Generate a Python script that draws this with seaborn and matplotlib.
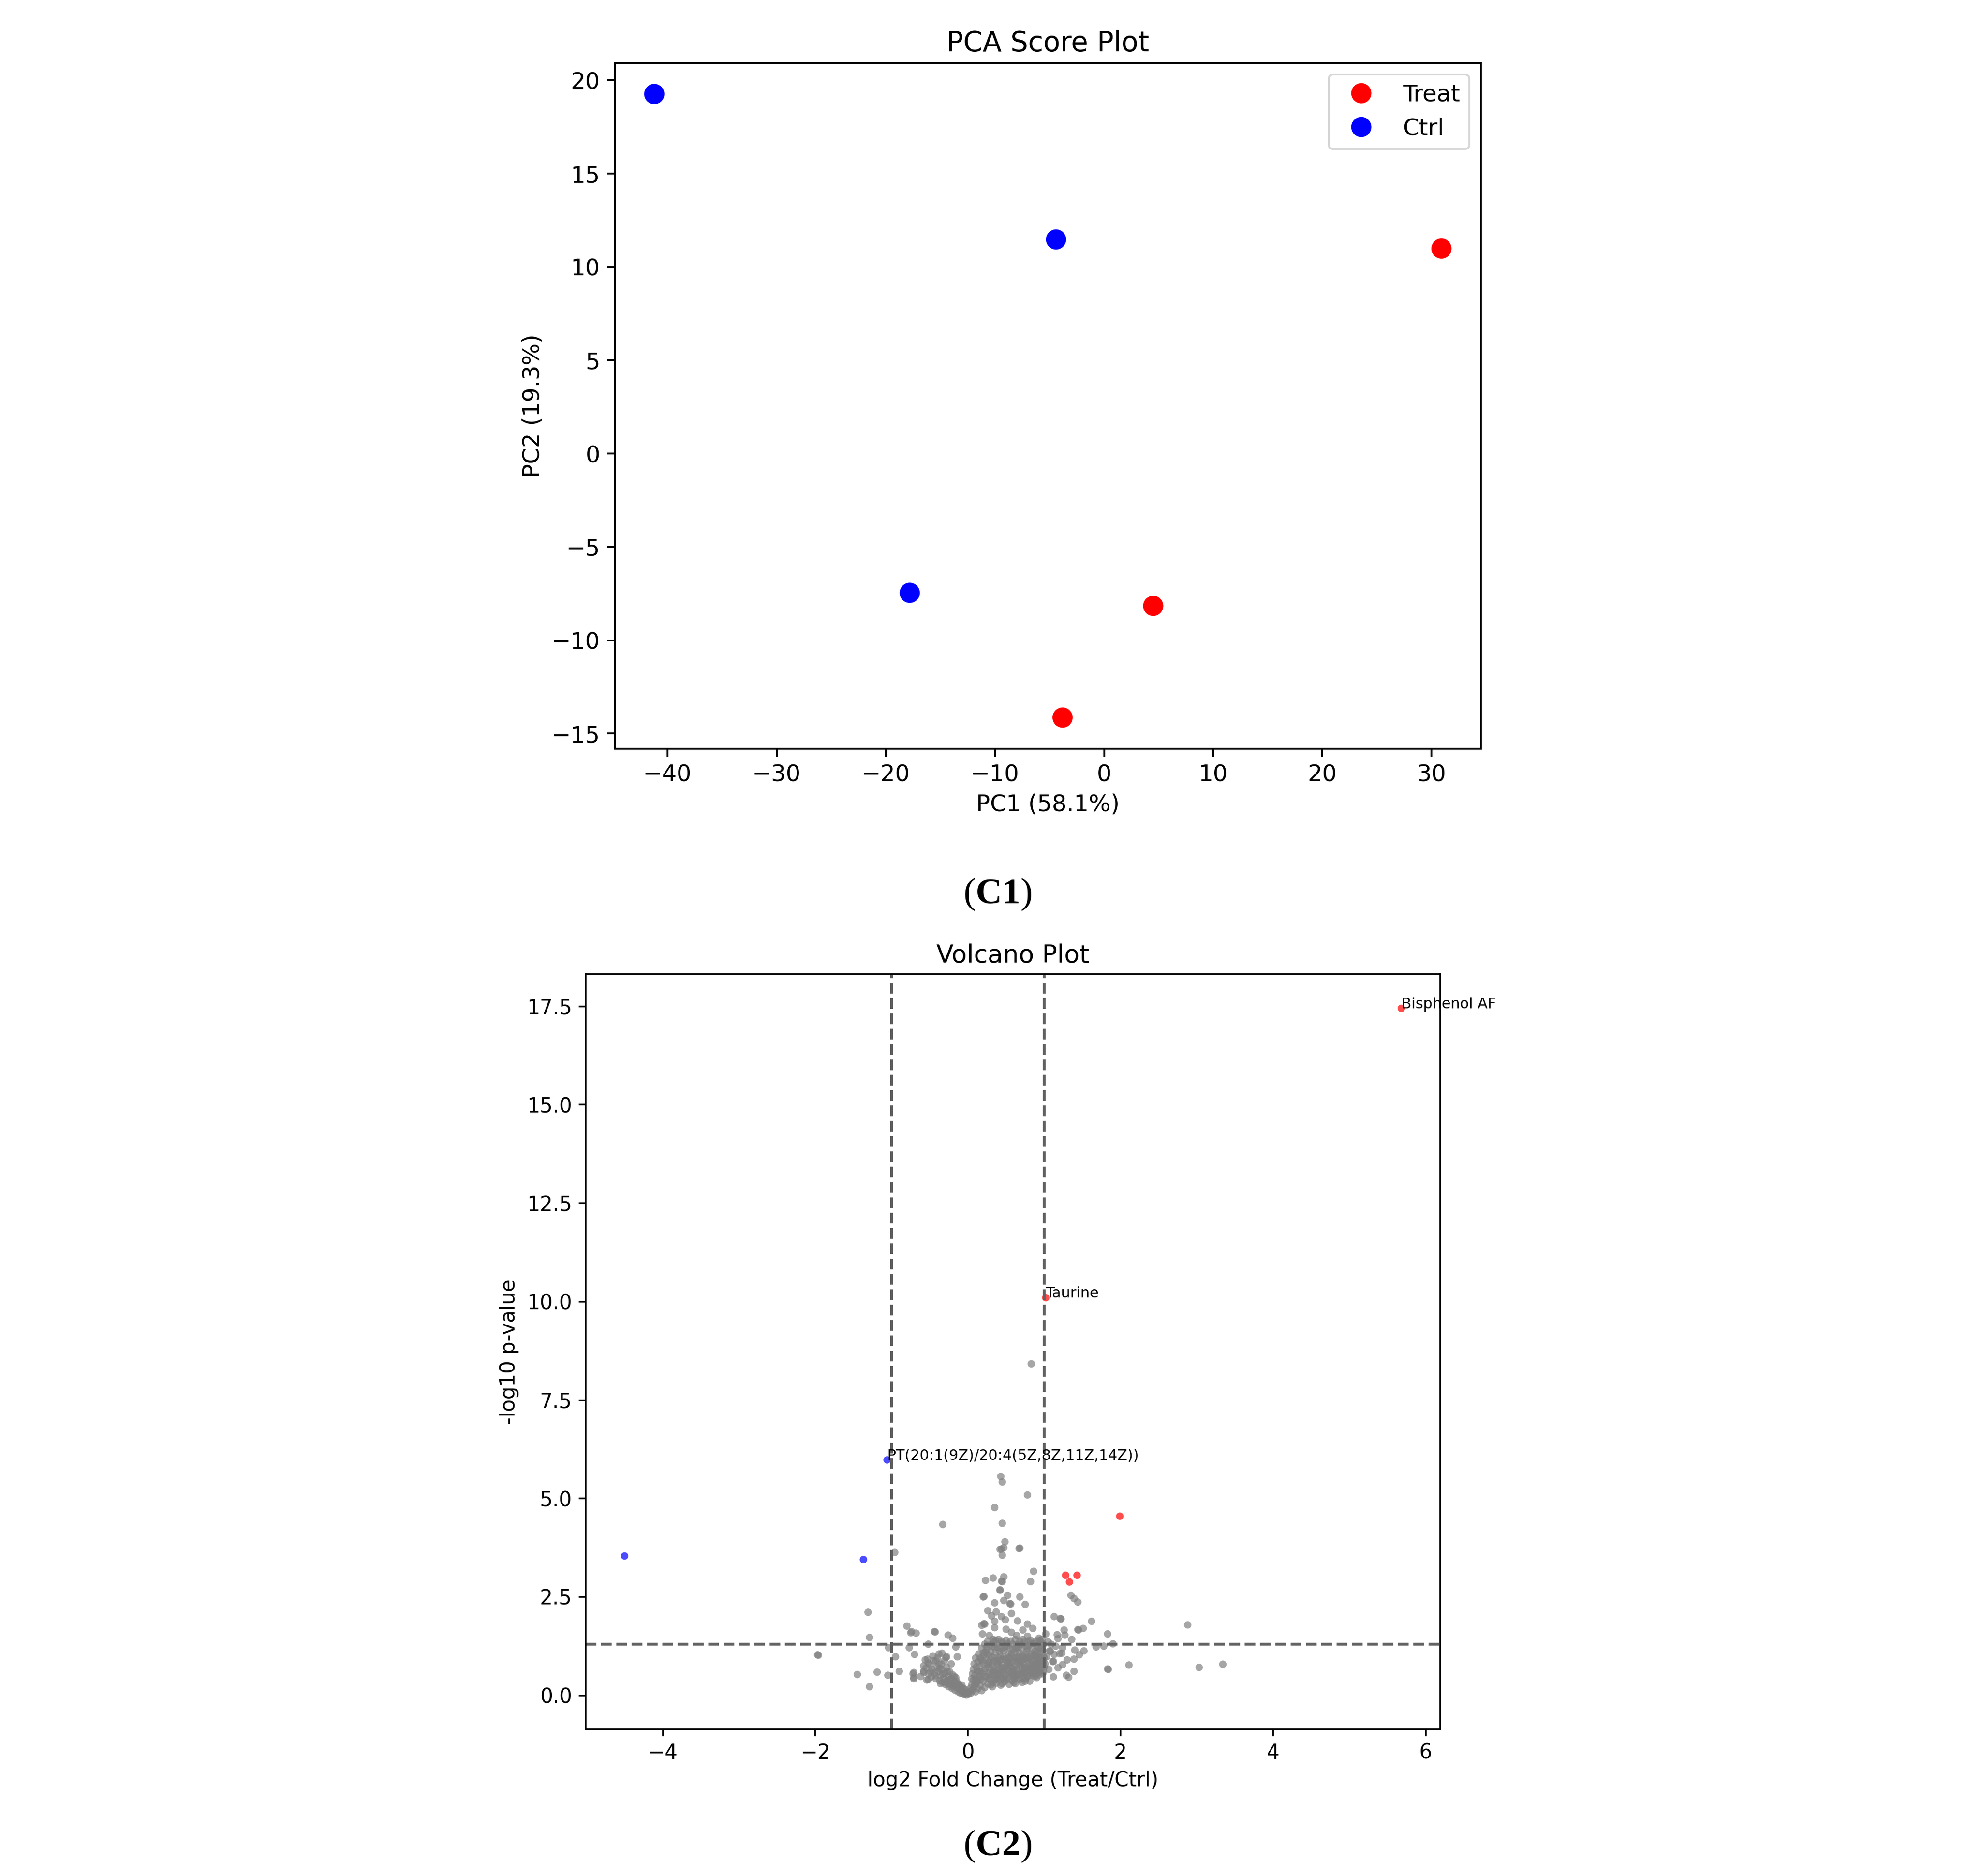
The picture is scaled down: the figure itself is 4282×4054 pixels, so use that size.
import numpy as np
import pandas as pd
import matplotlib
matplotlib.use("Agg")
import matplotlib.pyplot as plt
import seaborn as sns

plt.rcParams["mathtext.fontset"] = "custom"
plt.rcParams["mathtext.rm"] = "Liberation Serif"
plt.rcParams["mathtext.bf"] = "Liberation Serif:bold"

# ── PCA scores ───────────────────────────────────────────────────────
pca_group = ["Ctrl", "Ctrl", "Ctrl", "Treat", "Treat", "Treat"]
pca_pc1 = [-41.2, -4.4, -17.8, 30.9, 4.5, -3.8]
pca_pc2 = [19.26, 11.47, -7.46, 10.98, -8.16, -14.14]

# ── Volcano data (log2FC, -log10 p) ──────────────────────────────────
up_points = [(5.68, 17.45), (1.02, 10.10), (1.99, 4.55),
             (1.28, 3.05), (1.43, 3.05), (1.33, 2.88)]
down_points = [(-4.50, 3.54), (-1.37, 3.45), (-1.06, 5.98)]

labels_txt = ["Bisphenol AF", "Taurine", "PT(20:1(9Z)/20:4(5Z,8Z,11Z,14Z))"]
labels_pos = [(5.68, 17.45), (1.02, 10.10), (-1.06, 5.98)]

ns_upper = [
    (0.83, 8.42), (0.43, 5.56), (0.45, 5.42), (0.78, 5.09), (0.35, 4.77),
    (-0.33, 4.34), (0.45, 4.37), (0.485, 3.90), (0.42, 3.71), (0.44, 3.72),
    (0.47, 3.75), (0.45, 3.56), (0.68, 3.74), (0.67, 3.73), (-0.96, 3.63),
    (0.86, 3.15), (0.82, 2.89), (0.23, 2.92), (0.33, 2.98), (0.47, 3.01),
    (0.45, 2.89), (0.44, 2.90), (0.42, 2.67), (0.20, 2.50), (0.21, 2.51),
    (0.52, 2.54), (0.68, 2.50), (0.42, 2.68), (0.35, 2.35), (0.47, 2.41),
    (0.56, 2.32), (0.55, 2.33), (0.75, 2.31), (0.57, 2.08), (0.26, 2.15),
    (0.37, 2.12), (0.31, 2.02), (0.44, 2.00), (0.49, 1.92), (0.65, 1.89),
    (0.35, 1.88), (0.18, 1.78), (0.21, 1.82), (0.22, 1.81), (0.35, 1.72),
    (0.78, 1.81), (0.85, 1.70), (0.50, 1.68), (0.57, 1.60), (0.64, 1.52),
    (0.19, 1.56), (0.28, 1.52), (0.72, 1.66), (0.78, 1.50), (0.93, 1.45),
    (1.02, 1.56), (1.13, 2.00), (1.21, 1.95), (1.22, 1.94), (1.26, 1.66),
    (1.27, 1.53), (1.17, 1.54), (1.18, 1.44), (1.44, 1.67), (1.45, 1.66),
    (1.51, 1.70), (1.62, 1.88), (1.35, 2.54), (1.39, 2.46), (1.44, 2.37),
    (1.83, 1.56), (-1.31, 2.11), (-1.29, 1.47), (-0.80, 1.76), (-0.75, 1.59),
    (-0.68, 1.58), (-0.43, 1.61), (-0.26, 1.53), (-0.20, 1.45), (-0.74, 1.62),
]

ns_outer = [
    (1.68, 1.23), (1.78, 1.25), (1.90, 1.31), (1.83, 0.67), (1.84, 0.66),
    (2.11, 0.77), (2.88, 1.79), (3.03, 0.71), (3.34, 0.79), (1.40, 1.15),
    (1.46, 1.03), (1.39, 0.92), (1.30, 0.90), (1.24, 0.78), (1.20, 1.06),
    (1.23, 1.07), (1.07, 1.13), (1.08, 1.12), (1.24, 1.21), (1.11, 0.86),
    (1.12, 0.47), (1.29, 0.51), (1.32, 0.46), (1.39, 0.61), (0.99, 0.86),
    (1.01, 0.80), (1.13, 1.04), (1.12, 0.86), (-1.97, 1.03), (-1.96, 1.02),
    (-1.45, 0.53), (-1.19, 0.59), (-1.29, 0.22), (-1.04, 1.21), (-1.05, 0.51),
    (-0.90, 0.61), (-0.95, 0.98), (-0.72, 0.55), (-0.71, 0.42), (-0.54, 0.39),
    (-0.52, 1.30), (-0.77, 1.21), (-0.70, 1.04), (-0.34, 1.07), (-0.29, 0.96),
    (-0.16, 1.23), (-0.14, 0.98), (-0.56, 0.90), (-0.52, 0.82), (-0.58, 0.75),
    (-0.42, 0.88), (-0.38, 0.79), (-0.71, 0.58), (-0.71, 0.45), (-0.58, 0.58),
    (-0.52, 0.40), (-0.44, 1.62), (1.05, 1.36), (1.15, 1.25), (1.03, 0.98),
    (1.06, 0.66), (1.18, 0.70), (1.09, 1.30), (1.36, 1.42), (1.52, 1.13),
]

ns_left_arm = [
    (-0.58, 0.62), (-0.55, 0.70), (-0.52, 0.55), (-0.50, 0.78), (-0.48, 0.47),
    (-0.47, 0.66), (-0.45, 0.88), (-0.44, 0.57), (-0.42, 0.42), (-0.41, 0.73),
    (-0.40, 0.95), (-0.39, 0.61), (-0.37, 0.37), (-0.36, 0.50), (-0.35, 0.80),
    (-0.34, 0.66), (-0.33, 0.32), (-0.32, 0.44), (-0.31, 0.88), (-0.30, 0.56),
    (-0.29, 0.27), (-0.28, 0.71), (-0.27, 0.38), (-0.26, 0.48), (-0.25, 0.22),
    (-0.24, 0.60), (-0.23, 0.31), (-0.22, 0.42), (-0.21, 0.18), (-0.20, 0.52),
    (-0.19, 0.26), (-0.18, 0.35), (-0.17, 0.13), (-0.16, 0.45), (-0.15, 0.21),
    (-0.14, 0.30), (-0.13, 0.09), (-0.12, 0.16), (-0.11, 0.25), (-0.10, 0.06),
    (-0.09, 0.12), (-0.08, 0.19), (-0.07, 0.04), (-0.06, 0.10), (-0.05, 0.02),
    (-0.04, 0.07), (-0.03, 0.14), (-0.02, 0.01), (-0.01, 0.05), (-0.46, 1.00),
    (-0.38, 1.05), (-0.53, 0.92), (-0.28, 0.98), (-0.22, 0.80), (-0.62, 0.48),
    (-0.49, 0.60), (-0.43, 0.50), (-0.37, 0.68), (-0.33, 0.54), (-0.27, 0.60),
    (-0.24, 0.40), (-0.18, 0.48), (-0.15, 0.36), (-0.12, 0.28), (-0.08, 0.26),
    (-0.06, 0.18), (-0.36, 0.30), (-0.31, 0.34), (-0.26, 0.30), (-0.20, 0.24),
]

ns_core = [
    (0.01, 0.03), (0.02, 0.10), (0.03, 0.18), (0.04, 0.06), (0.05, 0.27),
    (0.06, 0.13), (0.07, 0.38), (0.08, 0.21), (0.09, 0.50), (0.10, 0.09),
    (0.11, 0.31), (0.12, 0.62), (0.13, 0.17), (0.14, 0.44), (0.15, 0.75),
    (0.16, 0.26), (0.17, 0.90), (0.18, 0.12), (0.19, 0.55), (0.20, 0.36),
    (0.21, 1.02), (0.22, 0.20), (0.23, 0.68), (0.24, 0.47), (0.25, 1.15),
    (0.26, 0.29), (0.27, 0.84), (0.28, 0.58), (0.29, 1.28), (0.30, 0.39),
    (0.31, 0.97), (0.32, 0.22), (0.33, 0.71), (0.34, 1.36), (0.35, 0.50),
    (0.36, 1.10), (0.37, 0.31), (0.38, 0.86), (0.39, 1.22), (0.40, 0.62),
    (0.41, 0.40), (0.42, 1.00), (0.43, 0.26), (0.44, 0.77), (0.45, 1.33),
    (0.46, 0.54), (0.47, 1.14), (0.48, 0.35), (0.49, 0.92), (0.50, 0.66),
    (0.51, 1.25), (0.52, 0.45), (0.53, 1.05), (0.54, 0.28), (0.55, 0.82),
    (0.56, 1.38), (0.57, 0.58), (0.58, 0.38), (0.59, 1.17), (0.60, 0.72),
    (0.61, 0.95), (0.62, 0.30), (0.63, 0.50), (0.64, 1.29), (0.65, 0.85),
    (0.66, 0.63), (0.67, 1.08), (0.68, 0.40), (0.69, 0.76), (0.70, 1.20),
    (0.71, 0.33), (0.72, 0.96), (0.73, 0.55), (0.74, 1.35), (0.75, 0.70),
    (0.76, 0.42), (0.77, 1.12), (0.78, 0.88), (0.79, 0.60), (0.80, 1.27),
    (0.81, 0.36), (0.82, 0.98), (0.83, 0.74), (0.84, 1.18), (0.85, 0.50),
    (0.86, 0.90), (0.87, 1.32), (0.88, 0.66), (0.89, 1.05), (0.90, 0.45),
    (0.91, 0.82), (0.92, 1.22), (0.93, 0.58), (0.94, 1.40), (0.95, 0.95),
    (0.96, 0.70), (0.97, 1.12), (0.98, 0.55), (0.99, 1.30),
]

ns_core_fill = [
    (0.06, 0.55), (0.08, 0.80), (0.10, 0.95), (0.12, 0.35), (0.14, 1.05),
    (0.16, 0.60), (0.18, 1.20), (0.20, 0.80), (0.22, 0.48), (0.24, 0.95),
    (0.26, 1.38), (0.28, 0.70), (0.30, 1.10), (0.32, 0.56), (0.34, 0.88),
    (0.36, 0.40), (0.38, 1.30), (0.40, 0.78), (0.42, 0.58), (0.44, 1.18),
    (0.46, 0.92), (0.48, 0.70), (0.50, 1.40), (0.52, 0.82), (0.54, 0.62),
    (0.56, 1.00), (0.58, 0.86), (0.60, 0.48), (0.62, 1.12), (0.64, 0.68),
    (0.66, 0.98), (0.68, 1.38), (0.70, 0.55), (0.72, 0.80), (0.74, 0.92),
    (0.76, 1.25), (0.78, 0.48), (0.80, 0.68), (0.82, 1.40), (0.84, 0.86),
    (0.86, 0.62), (0.88, 1.12), (0.90, 0.98), (0.92, 0.74), (0.94, 0.86),
    (0.96, 1.35), (0.98, 0.80), (0.30, 0.27), (0.45, 0.30), (0.60, 0.33),
    (0.75, 0.36), (0.93, 0.52), (0.11, 0.72), (0.15, 0.48), (0.19, 0.88),
    (0.23, 1.10), (0.27, 0.42), (0.31, 0.78), (0.35, 1.22), (0.39, 0.52),
    (0.43, 0.90), (0.47, 0.42), (0.51, 0.75), (0.55, 1.20), (0.59, 0.52),
    (0.63, 0.88), (0.67, 0.45), (0.71, 1.02), (0.75, 0.58), (0.79, 0.95),
    (0.83, 0.55), (0.87, 0.76), (0.91, 1.10), (0.95, 0.62), (0.99, 1.00),
    (1.00, 0.72), (0.97, 1.42), (0.89, 1.38), (0.62, 1.42), (0.40, 1.42),
    (0.33, 1.42), (0.22, 1.30),
]

ns_core_dense = [
    (0.07, 0.66), (0.09, 0.28), (0.13, 0.85), (0.17, 0.40), (0.21, 0.62),
    (0.25, 0.78), (0.27, 1.02), (0.29, 0.52), (0.33, 0.33), (0.35, 0.95),
    (0.37, 0.64), (0.39, 0.80), (0.41, 1.12), (0.43, 0.45), (0.45, 0.70),
    (0.47, 0.98), (0.49, 0.50), (0.51, 0.40), (0.53, 0.86), (0.55, 0.55),
    (0.57, 1.05), (0.59, 0.68), (0.61, 0.42), (0.63, 1.20), (0.65, 0.52),
    (0.67, 0.80), (0.69, 1.30), (0.71, 0.62), (0.73, 0.44), (0.75, 1.05),
    (0.77, 0.72), (0.79, 1.38), (0.81, 0.80), (0.83, 1.05), (0.85, 0.70),
    (0.87, 0.55), (0.89, 0.85), (0.91, 0.62), (0.93, 0.98), (0.95, 1.20),
    (0.97, 0.85), (0.99, 0.62), (0.16, 0.95), (0.24, 1.22), (0.32, 1.25),
    (0.36, 1.40), (0.44, 1.38), (0.48, 1.22), (0.52, 1.32), (0.58, 1.30),
    (0.66, 1.22), (0.72, 1.42), (0.78, 1.20), (0.84, 1.32), (0.90, 1.26),
    (0.46, 0.62), (0.54, 0.95), (0.60, 0.60), (0.68, 0.90), (0.74, 0.68),
    (0.80, 0.52), (0.86, 1.02), (0.92, 0.90), (0.40, 0.95), (0.34, 0.62),
    (0.28, 0.85), (0.20, 1.08), (0.14, 0.62), (0.10, 0.42), (0.05, 0.42),
    (0.38, 0.44), (0.56, 0.74), (0.64, 0.95), (0.70, 0.86), (0.76, 0.95),
    (0.82, 0.62), (0.88, 0.48), (0.94, 0.70), (0.98, 1.15), (1.00, 0.95),
]

fc_cut = 1.0
p_cut = 0.05

# ── Build data frames ────────────────────────────────────────────────
pca_df = pd.DataFrame({"PC1": pca_pc1, "PC2": pca_pc2, "Group": pca_group})

ns_all = ns_upper + ns_outer + ns_left_arm + ns_core + ns_core_fill + ns_core_dense
rows = [(x, y, "ns") for x, y in ns_all]
rows += [(x, y, "up") for x, y in up_points]
rows += [(x, y, "down") for x, y in down_points]
volc = pd.DataFrame(rows, columns=["log2fc", "neglogp", "status"])

# ── Figure ───────────────────────────────────────────────────────────
fig = plt.figure(figsize=(4282 / 300, 4054 / 300), dpi=300)

# PCA score plot
ax1 = fig.add_axes([0.3104, 0.6009, 0.4371, 0.3656])
sns.scatterplot(data=pca_df, x="PC1", y="PC2", hue="Group",
                hue_order=["Treat", "Ctrl"],
                palette={"Treat": "red", "Ctrl": "blue"},
                s=110, linewidth=0, ax=ax1)
leg = ax1.get_legend()
handles = leg.legend_handles
labs = [t.get_text() for t in leg.get_texts()]
ax1.legend(handles, labs, loc="upper right", fontsize=12)
ax1.set_title("PCA Score Plot", fontsize=14.4)
ax1.set_xlabel("PC1 (58.1%)", fontsize=12)
ax1.set_ylabel("PC2 (19.3%)", fontsize=12)
ax1.tick_params(labelsize=12, length=4.2, width=0.95)
for sp in ax1.spines.values():
    sp.set_linewidth(0.95)

# Volcano plot
ax2 = fig.add_axes([0.2957, 0.0782, 0.4313, 0.4026])
sns.scatterplot(data=volc, x="log2fc", y="neglogp", hue="status",
                palette={"ns": "grey", "up": "red", "down": "blue"},
                alpha=0.7, s=15, linewidth=0, legend=False, ax=ax2)
ax2.axvline(-fc_cut, color="#606060", linestyle="--", linewidth=1.5)
ax2.axvline(fc_cut, color="#606060", linestyle="--", linewidth=1.5)
ax2.axhline(-np.log10(p_cut), color="#606060", linestyle="--", linewidth=1.5)
for txt, (x, y) in zip(labels_txt, labels_pos):
    ax2.text(x, y, txt, fontsize=7.6)
ax2.set_title("Volcano Plot", fontsize=13)
ax2.set_xlabel("log2 Fold Change (Treat/Ctrl)", fontsize=10.5)
ax2.set_ylabel("-log10 p-value", fontsize=10.5)
ax2.tick_params(labelsize=10.5, length=3.6, width=0.85)
for sp in ax2.spines.values():
    sp.set_linewidth(0.85)

# Panel captions
fig.text(0.5035, 0.5232, r"($\mathbf{C1}$)", family="Liberation Serif",
         fontsize=19, ha="center", va="center")
fig.text(0.5035, 0.0158, r"($\mathbf{C2}$)", family="Liberation Serif",
         fontsize=19, ha="center", va="center")

fig.savefig("out.png", dpi=300)
plt.close(fig)
